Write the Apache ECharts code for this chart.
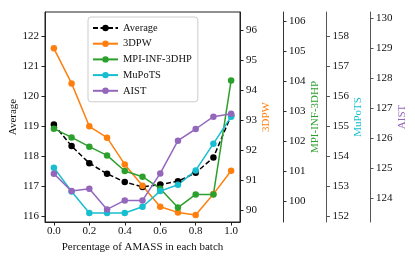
<!DOCTYPE html>
<html>
<head>
<meta charset="utf-8">
<script src="https://cdn.jsdelivr.net/npm/echarts@6/dist/echarts.min.js"></script>
<style>html,body{margin:0;padding:0;background:#fff}#c{width:415px;height:260px}</style>
</head>
<body>
<div id="c"></div>
<script>
const xValues = [0.0, 0.1, 0.2, 0.3, 0.4, 0.5, 0.6, 0.7, 0.8, 0.9, 1.0];
const average = [119.05, 118.33, 117.76, 117.41, 117.13, 116.97, 117.05, 117.16, 117.44, 117.95, 119.35];
const pw3d = [95.39, 94.22, 92.79, 92.41, 91.52, 90.81, 90.11, 89.92, 89.83, 90.53, 91.31];
const mpi = [102.41, 102.12, 101.81, 101.52, 101.00, 100.81, 100.41, 99.78, 100.22, 100.22, 104.02];
const mupots = [153.61, 152.82, 152.10, 152.10, 152.10, 152.31, 152.83, 153.04, 153.52, 154.41, 155.31];
const aist = [124.81, 124.23, 124.31, 123.62, 123.92, 123.92, 124.82, 125.91, 126.30, 126.71, 126.81];

const xTicks = [0.0, 0.2, 0.4, 0.6, 0.8, 1.0];
const avgTicks = [116, 117, 118, 119, 120, 121, 122];
const pwTicks = [90, 91, 92, 93, 94, 95, 96];
const mpiTicks = [100, 101, 102, 103, 104, 105, 106];
const mupotsTicks = [152, 153, 154, 155, 156, 157, 158];
const aistTicks = [124, 125, 126, 127, 128, 129, 130];

const FONT = 'Liberation Serif';
const AX = '#222';
const C = {avg: '#000000', pw: '#ff7f0e', mpi: '#2ca02c', mu: '#17becf', ai: '#9467bd'};

function pair(arr) { return xValues.map((x, i) => [x, arr[i]]); }

function yAx(opts) {
  return Object.assign({
    type: 'value',
    position: 'right',
    scale: true,
    splitLine: {show: false},
    axisLine: {show: true, onZero: false, lineStyle: {color: opts.line || AX, width: 1}},
    axisTick: {show: true, length: 3.5, customValues: opts.ticks, lineStyle: {color: opts.line || AX}},
    axisLabel: {customValues: opts.ticks, margin: 6, color: '#111', fontFamily: FONT, fontSize: 11},
    nameLocation: 'middle',
    nameRotate: 90,
    nameTextStyle: {fontFamily: FONT, fontSize: 11, color: opts.color}
  }, opts.extra);
}

const chart = echarts.init(document.getElementById('c'), null, {renderer: 'canvas'});
chart.setOption({
  animation: false,
  backgroundColor: '#fff',
  grid: {left: 45, right: 175, top: 12, bottom: 38, show: true, borderColor: AX, borderWidth: 1},
  legend: {
    orient: 'vertical', left: 88, top: 17,
    padding: [5, 6, 5, 4],
    itemWidth: 25, itemHeight: 8, itemGap: 3.7,
    backgroundColor: 'rgba(255,255,255,0.85)',
    borderColor: '#cccccc', borderWidth: 1, borderRadius: 3,
    textStyle: {fontFamily: FONT, fontSize: 10.5, color: '#111', lineHeight: 12},
    data: ['Average', '3DPW', 'MPI-INF-3DHP', 'MuPoTS', 'AIST']
  },
  xAxis: {
    type: 'value', min: -0.05, max: 1.05,
    splitLine: {show: false},
    axisLine: {show: true, onZero: false, lineStyle: {color: AX, width: 1}},
    axisTick: {show: true, length: 3.5, customValues: xTicks, lineStyle: {color: AX}},
    axisLabel: {customValues: xTicks, margin: 4, color: '#111', fontFamily: FONT, fontSize: 11,
      formatter: v => Number(v).toFixed(1)},
    name: 'Percentage of AMASS in each batch',
    nameLocation: 'middle', nameGap: 17,
    nameTextStyle: {fontFamily: FONT, fontSize: 11, color: '#111'}
  },
  yAxis: [
    yAx({ticks: avgTicks, color: '#111', extra: {position: 'left', min: 115.8, max: 122.8, name: 'Average', nameGap: 25, offset: 0}}),
    yAx({ticks: pwTicks, color: C.pw, extra: {min: 89.6, max: 96.6, name: '3DPW', nameGap: 17, offset: 0}}),
    yAx({ticks: mpiTicks, color: C.mpi, line: '#333', extra: {min: 99.3, max: 106.3, name: 'MPI-INF-3DHP', nameGap: 21, offset: 43}}),
    yAx({ticks: mupotsTicks, color: C.mu, line: '#555', extra: {min: 151.8, max: 158.8, name: 'MuPoTS', nameGap: 21, offset: 86.5}}),
    yAx({ticks: aistTicks, color: C.ai, line: '#555', extra: {min: 123.2, max: 130.2, name: 'AIST', nameGap: 21, offset: 130}})
  ],
  series: [
    {name: 'Average', type: 'line', yAxisIndex: 0, data: pair(average), symbol: 'circle', symbolSize: 6.5,
      lineStyle: {color: C.avg, width: 1.5, type: [5, 2.5]}, itemStyle: {color: C.avg}},
    {name: '3DPW', type: 'line', yAxisIndex: 1, data: pair(pw3d), symbol: 'circle', symbolSize: 6.5,
      lineStyle: {color: C.pw, width: 1.5}, itemStyle: {color: C.pw}},
    {name: 'MPI-INF-3DHP', type: 'line', yAxisIndex: 2, data: pair(mpi), symbol: 'circle', symbolSize: 6.5,
      lineStyle: {color: C.mpi, width: 1.5}, itemStyle: {color: C.mpi}},
    {name: 'MuPoTS', type: 'line', yAxisIndex: 3, data: pair(mupots), symbol: 'circle', symbolSize: 6.5,
      lineStyle: {color: C.mu, width: 1.5}, itemStyle: {color: C.mu}},
    {name: 'AIST', type: 'line', yAxisIndex: 4, data: pair(aist), symbol: 'circle', symbolSize: 6.5,
      lineStyle: {color: C.ai, width: 1.5}, itemStyle: {color: C.ai}}
  ]
});
</script>
</body>
</html>
